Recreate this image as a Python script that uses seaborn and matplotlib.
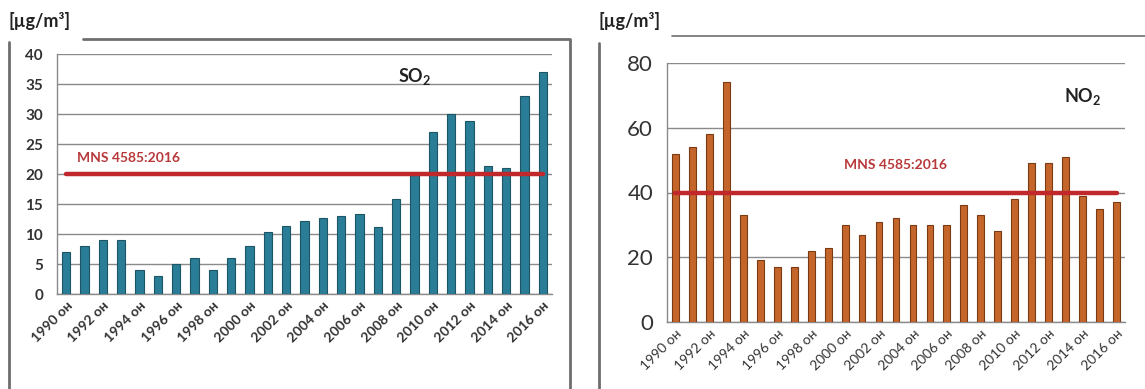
import numpy as np
import pandas as pd
import matplotlib
matplotlib.use("Agg")
import matplotlib.pyplot as plt
import seaborn as sns
from matplotlib.lines import Line2D

# -----------------------------
# Data
# -----------------------------
years = list(range(1990, 2017))
tick_years = years[::2]
tick_labels = [f"{y} он" for y in tick_years]

so2 = [7, 8, 9, 9, 4, 3, 5, 6, 4, 6, 8, 10.3, 11.3, 12.1, 12.7, 13, 13.3,
       11.1, 15.8, 19.9, 27, 30, 28.8, 21.3, 21, 33, 37]
no2 = [52, 54, 58, 74, 33, 19, 17, 17, 22, 23, 30, 27, 31, 32, 30, 30, 30,
       36, 33, 28, 38, 49, 49, 51, 39, 35, 37]

so2_limit = 20
no2_limit = 40
limit_label = "MNS 4585:2016"
unit_label = "[µg/m³]"

# -----------------------------
# Style
# -----------------------------
sns.set_theme(style="white")
plt.rcParams["font.family"] = ["Lato", "DejaVu Sans"]
plt.rcParams["mathtext.default"] = "regular"

W, H = 1145, 389
fig = plt.figure(figsize=(W / 100, H / 100), dpi=100)

TEXT = "#333333"
GRID = "#8a8a8a"
LIMIT = "#c0282b"


def px_axes(left, right, top, bottom):
    return fig.add_axes([left / W, 1 - bottom / H, (right - left) / W, (bottom - top) / H])


def draw_panel(ax, values, color, edge, ymax, step, limit, bar_width,
               ytick_size, ytick_weight, xtick_size, xtick_weight):
    df = pd.DataFrame({"year": [str(y) for y in years], "value": values})
    sns.barplot(data=df, x="year", y="value", color=color, width=bar_width,
                edgecolor=edge, linewidth=0.8, saturation=1, ax=ax, zorder=3)
    ax.set_xlim(-0.5, len(years) - 0.5)
    ax.set_ylim(0, ymax)
    ax.set_yticks(np.arange(0, ymax + 1, step))
    ax.yaxis.grid(True, color=GRID, linewidth=1)
    ax.set_axisbelow(True)
    ax.set_xlabel("")
    ax.set_ylabel("")
    for s in ["top", "right"]:
        ax.spines[s].set_visible(False)
    for s in ["left", "bottom"]:
        ax.spines[s].set_color(GRID)
        ax.spines[s].set_linewidth(1)
    ax.set_xticks([years.index(y) for y in tick_years])
    ax.set_xticklabels(tick_labels, rotation=45, ha="right", rotation_mode="anchor",
                       fontsize=xtick_size, fontweight=xtick_weight, color=TEXT)
    ax.tick_params(axis="y", labelsize=ytick_size, colors=TEXT, length=0, pad=10)
    ax.tick_params(axis="x", length=0, pad=4)
    for lab in ax.get_yticklabels():
        lab.set_fontweight(ytick_weight)
    ax.plot([0, len(years) - 1], [limit, limit], color=LIMIT, linewidth=3.2,
            solid_capstyle="round", zorder=4)


# -----------------------------
# SO2 panel
# -----------------------------
ax1 = px_axes(57, 552, 54, 294)
draw_panel(ax1, so2, "#2a7d96", "#1b5566", 40, 5, so2_limit, 0.45,
           11, "bold", 10, "bold")
ax1.text(19.0, 36.3, r"SO$_{2}$", fontsize=13, fontweight="bold", color="#222222",
         ha="center", va="center")
ax1.text(0.6, 22.7, limit_label, fontsize=10, fontweight="bold", color="#b8393b",
         ha="left", va="center")

# -----------------------------
# NO2 panel
# -----------------------------
ax2 = px_axes(667, 1125, 63, 322)
draw_panel(ax2, no2, "#c4662b", "#7a3a14", 80, 20, no2_limit, 0.4,
           16, "normal", 10, "normal")
ax2.text(24.0, 69.5, r"NO$_{2}$", fontsize=13, fontweight="bold", color="#222222",
         ha="center", va="center")
ax2.text(13.0, 48.5, limit_label, fontsize=10, fontweight="bold", color="#b8393b",
         ha="center", va="center")

# -----------------------------
# Outer frames and unit labels
# -----------------------------
frame_col = "#6e6e6e"


def fig_line(xs, ys, lw=2.0):
    fig.add_artist(Line2D([x / W for x in xs], [1 - y / H for y in ys],
                          color=frame_col, linewidth=lw))


fig_line([83, 570, 570], [38.5, 38.5, H])
fig_line([8.5, 8.5], [42, H])
fig_line([672, W], [36, 36], lw=1.2)
fig_line([598.5, 598.5], [43, H])

fig.text(8 / W, 1 - 21 / H, unit_label, fontsize=13, fontweight="bold", color="#222222",
         ha="left", va="center")
fig.text(598 / W, 1 - 21 / H, unit_label, fontsize=13, fontweight="bold", color="#222222",
         ha="left", va="center")

fig.savefig("out.png", dpi=100, facecolor="white")
